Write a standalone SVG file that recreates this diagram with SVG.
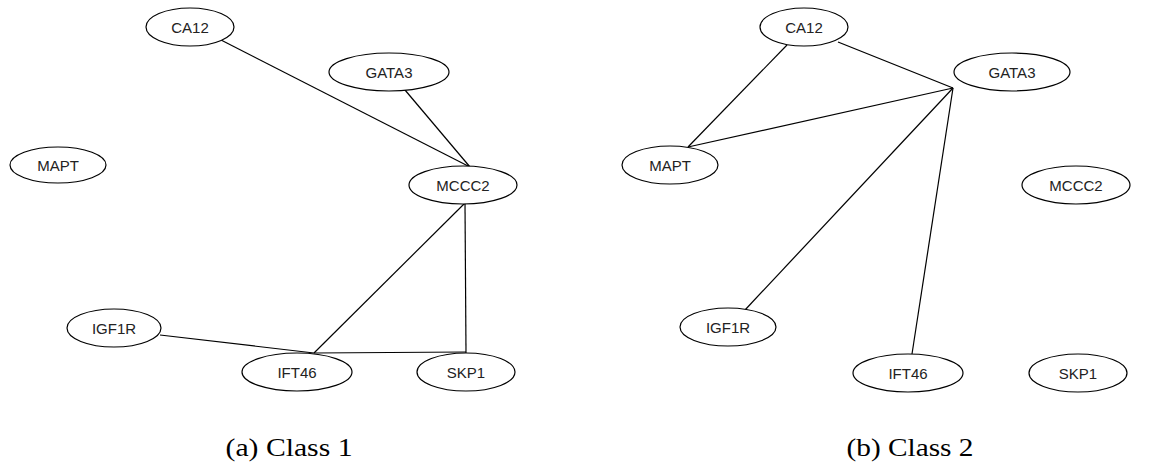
<svg xmlns="http://www.w3.org/2000/svg" width="1163" height="471" viewBox="0 0 1163 471">
<style>
.n ellipse{fill:#fff;stroke:#000;stroke-width:1.2}
.n text{font-family:"Liberation Sans",Arial,sans-serif;font-size:15px;fill:#222;text-anchor:middle;dominant-baseline:central}
.e line{stroke:#000;stroke-width:1.2}
.cap{font-family:"Liberation Serif","Times New Roman",serif;font-size:25px;fill:#000;text-anchor:middle}
</style>
<rect width="1163" height="471" fill="#fff"/>
<g id="edges" class="e">
<line x1="221" y1="40" x2="470" y2="167"/>
<line x1="405" y1="90" x2="470" y2="167"/>
<line x1="160" y1="335" x2="314" y2="353"/>
<line x1="465" y1="203" x2="314" y2="353"/>
<line x1="465" y1="203" x2="466" y2="353"/>
<line x1="314" y1="353" x2="466" y2="352"/>
<line x1="787" y1="45" x2="688" y2="147"/>
<line x1="838" y1="42" x2="953" y2="88"/>
<line x1="953" y1="88" x2="688" y2="147"/>
<line x1="953" y1="88" x2="745" y2="310"/>
<line x1="953" y1="88" x2="912" y2="354"/>
</g>
<g id="a-CA12" class="n"><ellipse cx="190" cy="27" rx="44" ry="19"/><text x="190" y="27">CA12</text></g>
<g id="a-GATA3" class="n"><ellipse cx="389" cy="72" rx="60" ry="19"/><text x="389" y="72">GATA3</text></g>
<g id="a-MAPT" class="n"><ellipse cx="58" cy="165" rx="48" ry="18"/><text x="58" y="165">MAPT</text></g>
<g id="a-MCCC2" class="n"><ellipse cx="463" cy="185" rx="54" ry="19"/><text x="463" y="185">MCCC2</text></g>
<g id="a-IGF1R" class="n"><ellipse cx="114" cy="328" rx="47" ry="19"/><text x="114" y="328">IGF1R</text></g>
<g id="a-IFT46" class="n"><ellipse cx="297" cy="372" rx="55" ry="19"/><text x="297" y="372">IFT46</text></g>
<g id="a-SKP1" class="n"><ellipse cx="466" cy="372" rx="49" ry="19"/><text x="466" y="372">SKP1</text></g>
<g id="b-CA12" class="n"><ellipse cx="804" cy="27" rx="44" ry="19"/><text x="804" y="27">CA12</text></g>
<g id="b-GATA3" class="n"><ellipse cx="1012" cy="72" rx="58" ry="19"/><text x="1012" y="72">GATA3</text></g>
<g id="b-MAPT" class="n"><ellipse cx="670" cy="165" rx="48" ry="19"/><text x="670" y="165">MAPT</text></g>
<g id="b-MCCC2" class="n"><ellipse cx="1076" cy="185" rx="54" ry="19"/><text x="1076" y="185">MCCC2</text></g>
<g id="b-IGF1R" class="n"><ellipse cx="728" cy="327" rx="48" ry="19"/><text x="728" y="327">IGF1R</text></g>
<g id="b-IFT46" class="n"><ellipse cx="908" cy="373" rx="55" ry="19"/><text x="908" y="373">IFT46</text></g>
<g id="b-SKP1" class="n"><ellipse cx="1078" cy="373" rx="49" ry="19"/><text x="1078" y="373">SKP1</text></g>
<text class="cap" x="289" y="456" textLength="127" lengthAdjust="spacingAndGlyphs">(a) Class 1</text>
<text class="cap" x="910" y="456" textLength="127" lengthAdjust="spacingAndGlyphs">(b) Class 2</text>
</svg>
